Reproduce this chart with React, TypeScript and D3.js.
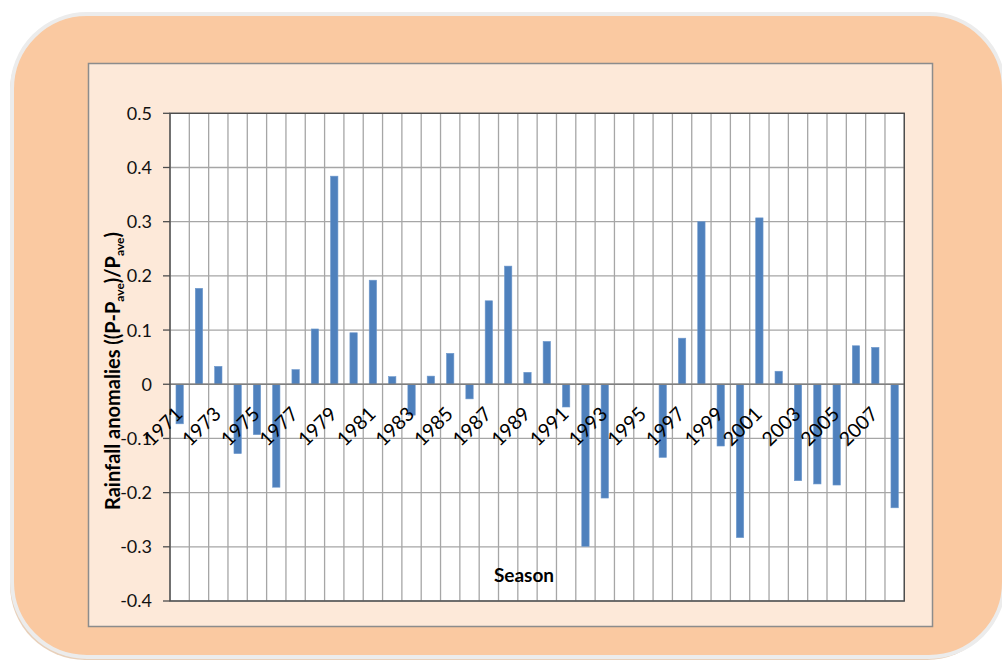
import React from "react";
import * as d3 from "d3";

const seasons: string[] = [
  "1971","1972","1973","1974","1975","1976","1977","1978","1979","1980",
  "1981","1982","1983","1984","1985","1986","1987","1988","1989","1990",
  "1991","1992","1993","1994","1995","1996","1997","1998","1999","2000",
  "2001","2002","2003","2004","2005","2006","2007","2008",
];

const anomalies: (number | null)[] = [
  -0.073, 0.177, 0.033, -0.128, -0.093, -0.19, 0.027, 0.102, 0.384, 0.095,
  0.192, 0.014, -0.057, 0.015, 0.057, -0.027, 0.154, 0.218, 0.022, 0.079,
  -0.042, -0.299, -0.21, null, null, -0.135, 0.085, 0.3, -0.114, -0.283,
  0.307, 0.024, -0.178, -0.184, -0.186, 0.071, 0.068, -0.228,
];

const yTicks: number[] = [-0.4, -0.3, -0.2, -0.1, 0, 0.1, 0.2, 0.3, 0.4, 0.5];
const labelledSeasons: string[] = [
  "1971","1973","1975","1977","1979","1981","1983","1985","1987","1989",
  "1991","1993","1995","1997","1999","2001","2003","2005","2007",
];

const W = 1002;
const H = 662;
const plot = { left: 170, top: 113.3, right: 904.3, bottom: 601 };
const FONT = "Lato, 'Open Sans', sans-serif";

export default function App() {
  const x = d3.scaleBand<string>().domain(seasons).range([plot.left, plot.right]).padding(0);
  const y = d3.scaleLinear().domain([-0.4, 0.5]).range([plot.bottom, plot.top]);
  const step = x.step();
  const barW = step * 0.38;
  const fmt = (v: number) => (Math.abs(v) < 1e-9 ? "0" : d3.format(".1f")(v).replace("\u2212", "-"));

  const boundaries = seasons.map((s) => x(s) as number).concat([plot.right]);

  return (
    <svg
      width={W}
      height={H}
      viewBox={`0 0 ${W} ${H}`}
      style={{ position: "absolute", left: 0, top: 0, display: "block" }}
    >
      <rect x={0} y={0} width={W} height={H} fill="#ffffff" />
      {/* shadow */}
      <rect x={10} y={16} width={992} height={644} rx={75} ry={75} fill="#d9b08c" opacity={0.6} />
      {/* outer rounded panel */}
      <rect
        x={12}
        y={14}
        width={992}
        height={643}
        rx={75}
        ry={75}
        fill="#FAC9A1"
        stroke="#ECECEC"
        strokeWidth={4}
      />
      {/* inner chart panel */}
      <rect x={88.5} y={63.5} width={844} height={563} fill="#FDE9D9" stroke="#8C8C8C" strokeWidth={1.5} />
      {/* plot area */}
      <rect
        x={plot.left}
        y={plot.top}
        width={plot.right - plot.left}
        height={plot.bottom - plot.top}
        fill="#ffffff"
      />
      {/* vertical gridlines */}
      {boundaries.map((bx, i) => (
        <line key={"v" + i} x1={bx} x2={bx} y1={plot.top} y2={plot.bottom} stroke="#A6A6A6" strokeWidth={1.3} />
      ))}
      {/* horizontal gridlines */}
      {yTicks.map((t) => (
        <line
          key={"h" + t}
          x1={plot.left}
          x2={plot.right}
          y1={y(t)}
          y2={y(t)}
          stroke="#A6A6A6"
          strokeWidth={1.3}
        />
      ))}
      {/* bars */}
      {seasons.map((s, i) => {
        const v = anomalies[i];
        if (v === null) return null;
        const cx = (x(s) as number) + step / 2;
        const y0 = y(0);
        const y1 = y(v);
        return (
          <rect
            key={"b" + s}
            x={cx - barW / 2}
            y={Math.min(y0, y1)}
            width={barW}
            height={Math.abs(y1 - y0)}
            fill="#4F81BD"
            stroke="#6E98CC"
            strokeWidth={0.6}
          />
        );
      })}
      {/* zero axis line */}
      <line x1={plot.left} x2={plot.right} y1={y(0)} y2={y(0)} stroke="#808080" strokeWidth={1.4} />
      {/* plot border */}
      <rect
        x={plot.left}
        y={plot.top}
        width={plot.right - plot.left}
        height={plot.bottom - plot.top}
        fill="none"
        stroke="#4D4D4D"
        strokeWidth={1.4}
      />
      {/* y ticks */}
      {yTicks.map((t) => (
        <g key={"t" + t}>
          <line x1={plot.left - 7} x2={plot.left} y1={y(t)} y2={y(t)} stroke="#4D4D4D" strokeWidth={1.3} />
          <text
            x={152}
            y={y(t)}
            dy="0.36em"
            textAnchor="end"
            fontFamily={FONT}
            fontSize={18}
            fill="#111"
          >
            {fmt(t)}
          </text>
        </g>
      ))}
      {/* category labels */}
      {labelledSeasons.map((s) => {
        const cx = (x(s) as number) + step / 2;
        const ax = cx + 4;
        const ay = y(0) + 31;
        return (
          <text
            key={"c" + s}
            x={ax}
            y={ay}
            transform={`rotate(-45 ${ax} ${ay})`}
            textAnchor="end"
            fontFamily={FONT}
            fontSize={19.5}
            fill="#000"
          >
            {s}
          </text>
        );
      })}
      {/* x axis title */}
      <text x={524} y={582} textAnchor="middle" fontFamily={FONT} fontWeight="bold" fontSize={19} fill="#000">
        Season
      </text>
      {/* y axis title */}
      <text
        x={0}
        y={0}
        transform={`translate(120 371) rotate(-90)`}
        textAnchor="middle"
        fontFamily={FONT}
        fontWeight="bold"
        fontSize={20}
        fill="#000"
      >
        <tspan>Rainfall anomalies ((P-P</tspan>
        <tspan fontSize={12} dy={4}>ave</tspan>
        <tspan dy={-4}>)/P</tspan>
        <tspan fontSize={12} dy={4}>ave</tspan>
        <tspan dy={-4}>)</tspan>
      </text>
    </svg>
  );
}
